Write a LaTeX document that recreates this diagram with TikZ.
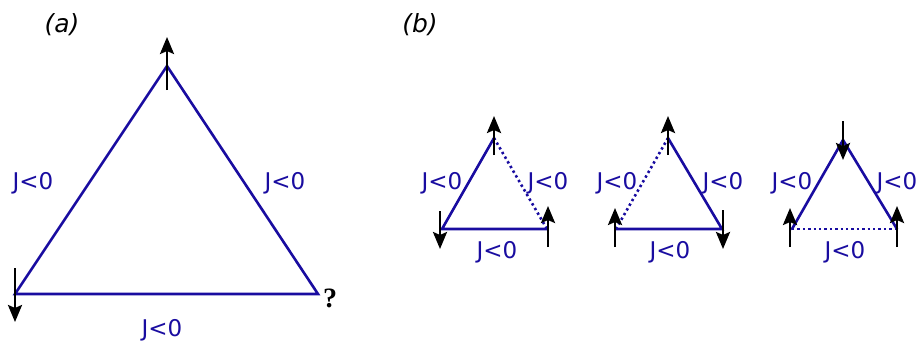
\documentclass[tikz,border=0pt]{standalone}
\usepackage{fontspec}
\setmainfont{Liberation Serif}
\setsansfont{DejaVu Sans}
\usetikzlibrary{arrows.meta}
\definecolor{bondblue}{RGB}{25,12,160}
\tikzset{
  bond/.style={draw=bondblue, line width=2.6pt, line cap=round},
  weakbond/.style={draw=bondblue, line width=2.6pt, dash pattern=on 2.4pt off 3pt},
  spin/.style={draw=black, line width=2.6pt, -{Stealth[length=17pt,width=14pt,inset=3pt]}},
  jlab/.style={text=bondblue, font=\sffamily\fontsize{23}{23}\selectfont, inner sep=0pt},
  panel/.style={font=\sffamily\itshape\fontsize{25}{25}\selectfont, inner sep=0pt},
  qmark/.style={font=\bfseries\fontsize{28}{28}\selectfont, inner sep=0pt}
}
\begin{document}
\begin{tikzpicture}[x=1pt,y=-1pt]
\useasboundingbox (0,0) rectangle (916,343);
% ---------- (a) ----------
\node[panel] (pa) at (62,25) {(a)};
\coordinate (A1) at (167,66);
\coordinate (A2) at (15,294);
\coordinate (A3) at (318,294);
\draw[bond] (A2) -- (A1) -- (A3) -- cycle;
\coordinate (sA1s) at (167,90); \coordinate (sA1e) at (167,37);
\coordinate (sA2s) at (15,268); \coordinate (sA2e) at (15,322);
\draw[spin] (sA1s) -- (sA1e);
\draw[spin] (sA2s) -- (sA2e);
\node[qmark] (q) at (330,298) {?};
\node[jlab] (la1) at (33,183) {J<0};
\node[jlab] (la2) at (285,183) {J<0};
\node[jlab] (la3) at (162,330) {J<0};
% ---------- (b) ----------
\node[panel] (pb) at (420,25) {(b)};
% triangle 1
\coordinate (B1) at (494,138);
\coordinate (B2) at (442,229);
\coordinate (B3) at (547,229);
\draw[bond] (B3) -- (B2) -- (B1);
\draw[weakbond] (B1) -- (B3);
\coordinate (sB1s) at (494,155); \coordinate (sB1e) at (494,116);
\coordinate (sB2s) at (440,211); \coordinate (sB2e) at (440,249);
\coordinate (sB3s) at (548,247); \coordinate (sB3e) at (548,206);
\draw[spin] (sB1s) -- (sB1e);
\draw[spin] (sB2s) -- (sB2e);
\draw[spin] (sB3s) -- (sB3e);
\node[jlab] (lb1) at (442,183) {J<0};
\node[jlab] (lb2) at (548,183) {J<0};
\node[jlab] (lb3) at (497,252) {J<0};
% triangle 2
\coordinate (C1) at (668,138);
\coordinate (C2) at (616,229);
\coordinate (C3) at (722,229);
\draw[bond] (C2) -- (C3) -- (C1);
\draw[weakbond] (C1) -- (C2);
\coordinate (sC1s) at (668,155); \coordinate (sC1e) at (668,116);
\coordinate (sC2s) at (615,247); \coordinate (sC2e) at (615,208);
\coordinate (sC3s) at (723,210); \coordinate (sC3e) at (723,249);
\draw[spin] (sC1s) -- (sC1e);
\draw[spin] (sC2s) -- (sC2e);
\draw[spin] (sC3s) -- (sC3e);
\node[jlab] (lc1) at (617,183) {J<0};
\node[jlab] (lc2) at (723,183) {J<0};
\node[jlab] (lc3) at (670,252) {J<0};
% triangle 3
\coordinate (D1) at (843,140);
\coordinate (D2) at (792,229);
\coordinate (D3) at (897,229);
\draw[bond] (D2) -- (D1) -- (D3);
\draw[weakbond] (D2) -- (D3);
\coordinate (sD1s) at (843,121); \coordinate (sD1e) at (843,160);
\coordinate (sD2s) at (790,247); \coordinate (sD2e) at (790,208);
\coordinate (sD3s) at (897,247); \coordinate (sD3e) at (897,206);
\draw[spin] (sD1s) -- (sD1e);
\draw[spin] (sD2s) -- (sD2e);
\draw[spin] (sD3s) -- (sD3e);
\node[jlab] (ld1) at (792,183) {J<0};
\node[jlab] (ld2) at (897,183) {J<0};
\node[jlab] (ld3) at (845,252) {J<0};
\end{tikzpicture}
\end{document}
